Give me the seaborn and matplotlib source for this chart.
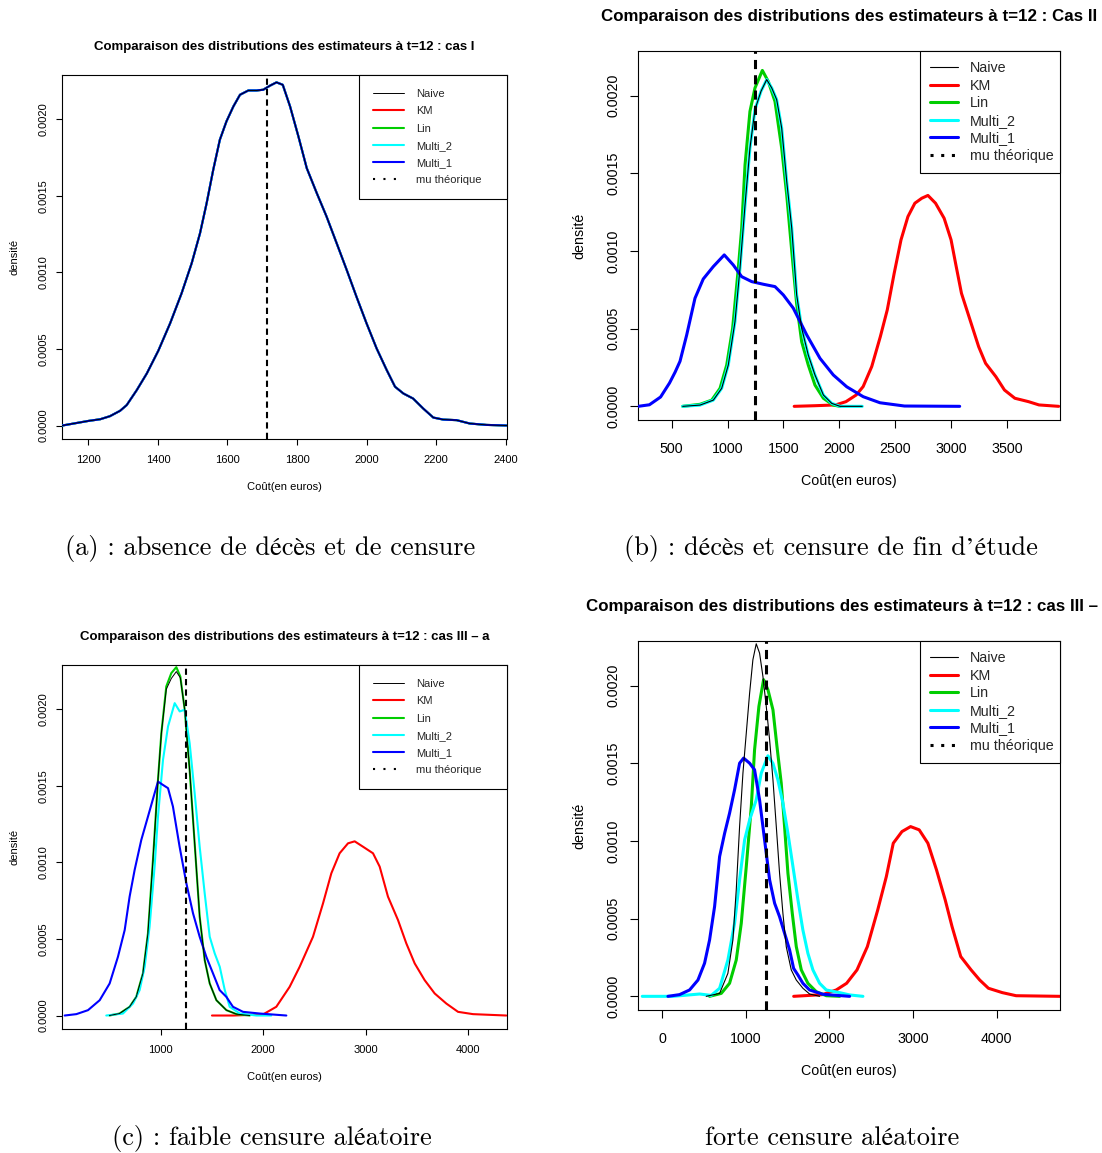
import pandas as pd
import seaborn as sns
import matplotlib.pyplot as plt
from matplotlib.lines import Line2D

sns.set_theme(style="white")
plt.rcParams['font.family'] = ['Liberation Sans', 'DejaVu Sans']

W, H = 1102, 1153
UNIT = 1e-4  # densities below are written in units of 1e-4

# ---------------- data ----------------
# (a) all five estimators coincide
a_x = [1125, 1200, 1234, 1262, 1291, 1310, 1339, 1368, 1401, 1435, 1468, 1497, 1521, 1540, 1559,
       1578, 1597, 1617, 1636, 1660, 1684, 1703, 1722, 1741, 1759, 1780, 1804, 1828, 1857, 1885,
       1914, 1943, 1971, 2000, 2029, 2058, 2082, 2106, 2134, 2163, 2192, 2220, 2259, 2297, 2345, 2403]
a_y = [0, 0.30, 0.41, 0.61, 0.96, 1.33, 2.31, 3.40, 4.88, 6.67, 8.63, 10.59, 12.55, 14.51, 16.69,
       18.65, 19.85, 20.83, 21.59, 21.87, 21.87, 21.92, 22.18, 22.40, 22.24, 20.83, 18.87, 16.80, 15.16, 13.64,
       11.90, 10.15, 8.41, 6.67, 5.03, 3.62, 2.53, 2.09, 1.76, 1.11, 0.52, 0.39, 0.35, 0.13, 0.04, 0]

# (b)
b_lin_x = [598, 753, 858, 932, 992, 1045, 1096, 1126, 1156, 1200, 1245, 1311, 1364, 1424, 1484, 1529,
           1574, 1618, 1663, 1722, 1782, 1857, 1946, 2006]
b_lin_y = [0, 0.13, 0.40, 1.16, 2.66, 5.03, 8.90, 11.47, 15.55, 18.99, 20.50, 21.63, 20.92, 19.63, 16.63,
           13.62, 10.00, 6.60, 4.16, 2.66, 1.37, 0.52, 0.08, 0]
b_m2_x = [598, 753, 872, 947, 1006, 1066, 1111, 1156, 1200, 1245, 1299, 1350, 1395, 1439, 1484, 1529,
          1574, 1618, 1663, 1722, 1782, 1857, 1932, 2006, 2205]
b_m2_y = [0, 0.08, 0.40, 1.16, 2.66, 5.46, 8.90, 12.98, 16.63, 19.11, 20.29, 21.04, 20.50, 19.75, 17.92,
          14.48, 11.47, 7.18, 5.03, 3.30, 2.02, 0.73, 0.19, 0, 0]
b_naive_x = b_m2_x
b_naive_y = b_m2_y
b_m1_x = [200, 300, 400, 480, 530, 574, 634, 708, 782, 872, 970, 1051, 1126, 1216, 1320, 1424, 1499,
          1588, 1708, 1827, 1946, 2066, 2214, 2364, 2583, 3077]
b_m1_y = [0, 0.10, 0.60, 1.50, 2.20, 2.90, 4.60, 6.96, 8.20, 9.00, 9.75, 9.10, 8.35, 8.03, 7.86, 7.71,
          7.17, 6.32, 4.60, 3.09, 2.02, 1.26, 0.62, 0.23, 0.02, 0]
b_km_x = [1596, 1781, 1966, 2059, 2151, 2213, 2290, 2367, 2429, 2491, 2552, 2614, 2676, 2738, 2793,
          2861, 2938, 3000, 3046, 3093, 3170, 3247, 3309, 3401, 3478, 3571, 3694, 3787, 3963]
b_km_y = [0, 0.04, 0.09, 0.30, 0.73, 1.27, 2.56, 4.49, 6.21, 8.57, 10.72, 12.22, 13.08, 13.40, 13.58,
          13.08, 12.11, 10.72, 9.00, 7.28, 5.56, 3.84, 2.77, 1.91, 1.05, 0.52, 0.30, 0.09, 0]

# (c)
c_lin_x = [500, 599, 697, 762, 827, 876, 925, 974, 1007, 1055, 1104, 1153, 1192, 1235, 1283, 1332,
           1381, 1430, 1479, 1544, 1642, 1740, 1870]
c_lin_y = [0, 0.13, 0.57, 1.22, 2.75, 5.36, 10.15, 15.38, 18.43, 21.48, 22.35, 22.74, 22.13, 19.96,
           16.03, 11.24, 6.45, 3.62, 2.09, 1.00, 0.35, 0.09, 0]
c_naive_x = c_lin_x
c_naive_y = [0, 0.13, 0.57, 1.22, 2.75, 5.36, 10.15, 15.38, 18.43, 21.30, 22.00, 22.45, 22.05, 19.96,
             16.03, 11.24, 6.45, 3.62, 2.09, 1.00, 0.35, 0.09, 0]
c_m2_x = [469, 632, 730, 795, 844, 892, 941, 974, 1023, 1072, 1137, 1186, 1235, 1283, 1332, 1381,
          1430, 1479, 1528, 1577, 1626, 1674, 1772, 1935, 2080]
c_m2_y = [0, 0.13, 0.78, 1.66, 3.18, 5.80, 9.72, 12.98, 16.69, 18.87, 20.39, 19.85, 19.96, 17.78,
          14.51, 11.02, 7.97, 5.14, 4.05, 3.18, 1.66, 0.57, 0.13, 0, 0]
c_m1_x = [63, 177, 291, 405, 502, 583, 649, 697, 746, 811, 876, 941, 974, 1023, 1072, 1120, 1185,
          1251, 1316, 1381, 1446, 1511, 1576, 1641, 1706, 1804, 1966, 2227]
c_m1_y = [0, 0.09, 0.35, 1.00, 2.09, 3.83, 5.58, 7.76, 9.50, 11.46, 12.98, 14.51, 15.27, 15.05,
          14.84, 13.64, 11.02, 8.63, 6.67, 5.14, 3.83, 2.75, 1.66, 1.22, 0.57, 0.24, 0.13, 0]
c_km_x = [1501, 1706, 1999, 2129, 2259, 2357, 2487, 2585, 2666, 2747, 2829, 2894, 2975, 3073, 3138,
          3219, 3317, 3398, 3480, 3577, 3675, 3789, 3903, 4049, 4374]
c_km_y = [0, 0, 0.07, 0.57, 1.87, 3.18, 5.14, 7.32, 9.28, 10.59, 11.24, 11.37, 11.02, 10.59, 9.72,
          7.76, 6.23, 4.71, 3.40, 2.31, 1.44, 0.78, 0.24, 0.09, 0]

# (d)
d_naive_x = [526, 686, 785, 845, 885, 925, 965, 1005, 1045, 1084, 1124, 1164, 1204, 1244, 1284, 1324,
             1364, 1403, 1443, 1483, 1543, 1603, 1682, 1762, 1882]
d_naive_y = [0, 0.19, 1.48, 3.63, 6.85, 10.93, 14.37, 16.95, 19.53, 21.67, 22.70, 22.10, 20.60, 18.67,
             16.52, 13.94, 10.93, 7.93, 5.35, 3.20, 1.70, 1.05, 0.52, 0.15, 0]
d_lin_x = [566, 706, 805, 885, 945, 1005, 1065, 1104, 1156, 1212, 1264, 1324, 1372, 1423, 1463, 1503,
           1555, 1603, 1663, 1742, 1842, 1962, 2121]
d_lin_y = [0, 0.19, 0.84, 2.34, 4.70, 8.36, 12.22, 15.87, 18.67, 20.39, 19.74, 18.45, 16.09, 13.73,
           10.93, 7.93, 5.35, 3.20, 1.70, 0.84, 0.30, 0.04, 0]
d_m2_x = [-239, 128, 447, 586, 686, 785, 865, 925, 985, 1045, 1124, 1184, 1264, 1324, 1383, 1443, 1503,
          1563, 1623, 1682, 1742, 1802, 1882, 1962, 2121, 2241, 2400]
d_m2_y = [0, 0, 0.15, 0.06, 0.52, 2.34, 4.70, 7.50, 10.07, 11.36, 12.65, 14.37, 15.49, 15.00, 13.94,
          12.44, 10.50, 8.36, 6.21, 4.27, 2.77, 1.70, 0.84, 0.41, 0.24, 0.09, 0]
d_m1_x = [68, 207, 327, 427, 506, 566, 626, 686, 746, 805, 865, 925, 973, 1045, 1104, 1164, 1224, 1284,
          1344, 1403, 1463, 1523, 1571, 1623, 1682, 1762, 1922, 2241]
d_m1_y = [0, 0.11, 0.41, 1.05, 2.13, 3.63, 5.78, 9.00, 10.50, 11.79, 13.30, 15.01, 15.34, 15.01, 14.59,
          12.65, 10.07, 7.50, 5.99, 5.13, 4.06, 2.99, 1.80, 1.37, 0.84, 0.41, 0.13, 0]
d_km_x = [1572, 1915, 2081, 2205, 2329, 2453, 2577, 2680, 2763, 2867, 2970, 3073, 3177, 3280, 3384,
          3466, 3570, 3694, 3797, 3901, 4066, 4232, 4757]
d_km_y = [0, 0.11, 0.41, 0.84, 1.70, 3.20, 5.56, 7.71, 9.86, 10.61, 10.93, 10.72, 9.86, 8.14, 6.21,
          4.49, 2.56, 1.70, 1.05, 0.52, 0.24, 0.04, 0]

mu_values = [1713, 1245, 1245, 1245]
xticks_a = [1200, 1400, 1600, 1800, 2000, 2200, 2400]
xticks_b = [500, 1000, 1500, 2000, 2500, 3000, 3500]
xticks_c = [1000, 2000, 3000, 4000]
xticks_d = [0, 1000, 2000, 3000, 4000]
ytick_vals = [0, 0.0005, 0.0010, 0.0015, 0.0020]
ytick_labels = ["0.0000", "0.0005", "0.0010", "0.0015", "0.0020"]

series = ["Naive", "KM", "Lin", "Multi_2", "Multi_1"]
colors = {"Naive": "black", "KM": "#FF0000", "Lin": "#00CD00", "Multi_2": "#00FFFF", "Multi_1": "#0000FF"}
zorders = {"KM": 2, "Lin": 3, "Multi_2": 4, "Multi_1": 5, "Naive": 6}

titles = ["Comparaison des distributions des estimateurs à t=12 : cas I",
          "Comparaison des distributions des estimateurs à t=12 : Cas II",
          "Comparaison des distributions des estimateurs à t=12 : cas III – a",
          "Comparaison des distributions des estimateurs à t=12 : cas III – b"]
captions = ["(a) : absence de décès et de censure",
            "(b) : décès et censure de fin d’étude",
            "(c) : faible censure aléatoire",
            "forte censure aléatoire"]


def to_df(curves):
    frames = []
    for name, (xs, ys) in curves.items():
        frames.append(pd.DataFrame({"cout": xs, "densite": [v * UNIT for v in ys], "serie": name}))
    return pd.concat(frames, ignore_index=True)


fig = plt.figure(figsize=(W / 100, H / 100), dpi=100)


def fx(x):
    return x / W


def fy(y):
    return 1 - y / H


def panel(box, df, mu, xlim, xticks, title, cfg):
    x0, y0, x1, y1 = box
    ax = fig.add_axes([fx(x0), fy(y1), (x1 - x0) / W, (y1 - y0) / H])
    for name in series:
        sub = df[df["serie"] == name]
        lw = cfg["thin"] if name == "Naive" else cfg["thick"]
        sns.lineplot(data=sub, x="cout", y="densite", color=colors[name], lw=lw, sort=False,
                     estimator=None, legend=False, ax=ax, zorder=zorders[name],
                     solid_joinstyle="round")
    ax.axvline(mu, color="black", lw=cfg["thick"], ls=(0, (3, 2)), zorder=7)
    ax.set_xlim(*xlim)
    ax.set_ylim(-0.000088, 0.002288)
    ax.set_xticks(xticks)
    ax.set_xticklabels([str(t) for t in xticks])
    ax.set_yticks(ytick_vals)
    ax.set_yticklabels(ytick_labels)
    ax.set_xlabel("")
    ax.set_ylabel("")
    for s in ax.spines.values():
        s.set_color("black")
        s.set_linewidth(0.8)
    ax.tick_params(axis="both", which="both", direction="out", length=cfg["tl"], width=0.8,
                   color="black", labelsize=cfg["fs"], labelcolor="black", bottom=True, left=True)
    ax.tick_params(axis="x", pad=cfg["padx"])
    ax.tick_params(axis="y", pad=cfg["pady"])
    for lab in ax.get_yticklabels():
        lab.set_rotation(90)
        lab.set_va("center")
    handles = [Line2D([], [], color=colors[n], lw=(cfg["thin"] if n == "Naive" else cfg["thick"]))
               for n in series]
    handles.append(Line2D([], [], color="black", lw=cfg["thick"], ls=(0, (1, cfg["dotgap"]))))
    lw_frac = cfg["legw"] / (x1 - x0)
    leg = ax.legend(handles, series + ["mu théorique"], loc="upper right",
                    bbox_to_anchor=(1 - lw_frac, 0, lw_frac, 1), mode="expand",
                    borderaxespad=0, fancybox=False, framealpha=1, edgecolor="black",
                    fontsize=cfg["fs"], handlelength=cfg["hl"], handletextpad=cfg["htp"],
                    labelspacing=cfg["ls"], borderpad=cfg["bp"])
    leg.get_frame().set_linewidth(0.8)
    cx = (x0 + x1) / 2
    fig.text(fx(cx), fy(cfg["ty"]), title, ha="center", va="center", fontsize=cfg["tfs"],
             fontweight="bold", color="black")
    fig.text(fx(cx), fy(cfg["xly"]), "Coût(en euros)", ha="center", va="center",
             fontsize=cfg["fs"], color="black")
    fig.text(fx(cfg["ylx"]), fy((y0 + y1) / 2), "densité", ha="center", va="center",
             rotation=90, fontsize=cfg["fs"], color="black")
    return ax


small = dict(fs=8, tfs=9.5, thick=1.5, thin=0.7, tl=4.3, padx=7.5, pady=5.5,
             hl=2.8, htp=1.1, ls=0.65, bp=1.27, legw=148, dotgap=4)
big = dict(fs=10.3, tfs=12.2, thick=2.2, thin=0.8, tl=5.8, padx=10, pady=6.5,
           hl=1.95, htp=0.86, ls=0.25, bp=0.7, legw=140, dotgap=2.5)

df_a = to_df({n: (a_x, a_y) for n in series})
df_b = to_df({"Naive": (b_naive_x, b_naive_y), "KM": (b_km_x, b_km_y), "Lin": (b_lin_x, b_lin_y),
              "Multi_2": (b_m2_x, b_m2_y), "Multi_1": (b_m1_x, b_m1_y)})
df_c = to_df({"Naive": (c_naive_x, c_naive_y), "KM": (c_km_x, c_km_y), "Lin": (c_lin_x, c_lin_y),
              "Multi_2": (c_m2_x, c_m2_y), "Multi_1": (c_m1_x, c_m1_y)})
df_d = to_df({"Naive": (d_naive_x, d_naive_y), "KM": (d_km_x, d_km_y), "Lin": (d_lin_x, d_lin_y),
              "Multi_2": (d_m2_x, d_m2_y), "Multi_1": (d_m1_x, d_m1_y)})

panel((62, 75, 507, 439), df_a, mu_values[0], (1124, 2404), xticks_a, titles[0],
      dict(small, ty=47, xly=487, ylx=15))
panel((638, 51, 1060, 420), df_b, mu_values[1], (198, 3975), xticks_b, titles[1],
      dict(big, ty=16, xly=481, ylx=579))
panel((62, 665, 507, 1029), df_c, mu_values[2], (37, 4381), xticks_c, titles[2],
      dict(small, ty=637, xly=1077, ylx=15))
panel((638, 641, 1060, 1010), df_d, mu_values[3], (-290, 4757), xticks_d, titles[3],
      dict(big, ty=606, xly=1071, ylx=579))

cap_font = ['cmr10', 'STIXGeneral']
for (cx, cy), text in zip([(270, 548), (831, 548), (272, 1138), (832, 1138)], captions):
    fig.text(fx(cx), fy(cy), text, ha="center", va="center", fontsize=19,
             family=cap_font, color="black")

fig.savefig("out.png", dpi=100)
